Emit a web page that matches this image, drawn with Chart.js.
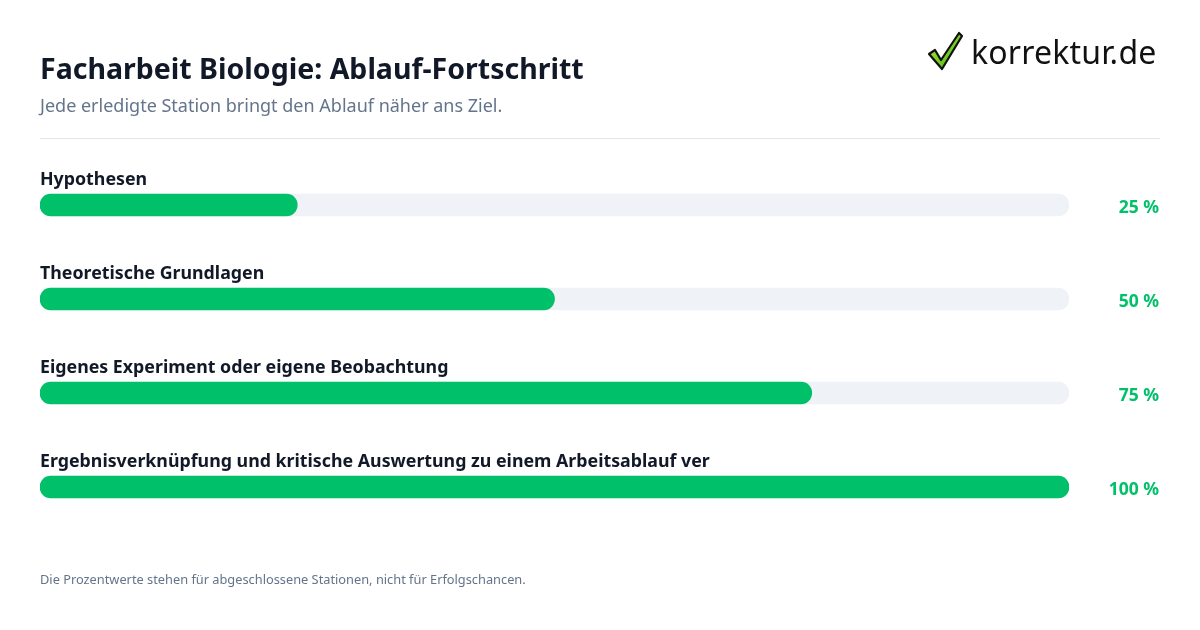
<!DOCTYPE html>
<html lang="de">
<head>
<meta charset="utf-8">
<script src="https://cdn.jsdelivr.net/npm/chart.js@4"></script>
<style>
  html, body { margin: 0; padding: 0; background: #fff; }
  body { width: 1200px; height: 630px; position: relative; overflow: hidden; font-family: "Noto Sans", sans-serif; }
  #wrap { position: absolute; left: 0; top: 0; width: 1200px; height: 630px; }
  .title { position: absolute; left: 40px; top: 48px; font-size: 28.5px; font-weight: 700; color: #111827; margin: 0; line-height: 40px; }
  .sub { position: absolute; left: 40px; top: 93px; font-size: 18px; color: #64748b; line-height: 24px; }
  .sep { position: absolute; left: 40px; top: 138px; width: 1120px; height: 1px; background: #e2e8f0; }
  .foot { position: absolute; left: 40px; top: 570px; font-size: 12.8px; color: #64748b; line-height: 18px; }
  .logo { position: absolute; left: 926px; top: 28px; height: 46px; display: flex; align-items: center; }
  .logo span { font-family: "Noto Sans", sans-serif; font-size: 32px; color: #111; margin-left: 7px; letter-spacing: 0.2px; }
</style>
</head>
<body>
<div id="wrap"><canvas id="progress" width="1200" height="630"></canvas></div>
<h1 class="title">Facharbeit Biologie: Ablauf-Fortschritt</h1>
<div class="sub">Jede erledigte Station bringt den Ablauf näher ans Ziel.</div>
<div class="sep"></div>
<div class="logo">
  <svg width="38" height="42" viewBox="0 0 38 42">
    <defs>
      <linearGradient id="g" x1="0" y1="0" x2="1" y2="1">
        <stop offset="0" stop-color="#b6f03a"/>
        <stop offset="1" stop-color="#3fae12"/>
      </linearGradient>
    </defs>
    <path d="M3 24 L9 20 L15 30 L33 3 L36 6 L16 39 Z" fill="url(#g)" stroke="#111" stroke-width="2.2" stroke-linejoin="round"/>
  </svg>
  <span>korrektur.de</span>
</div>
<div class="foot">Die Prozentwerte stehen für abgeschlossene Stationen, nicht für Erfolgschancen.</div>

<script>
// Stationen und Fortschritt
const stations = [
  'Hypothesen',
  'Theoretische Grundlagen',
  'Eigenes Experiment oder eigene Beobachtung',
  'Ergebnisverknüpfung und kritische Auswertung zu einem Arbeitsablauf ver'
];
const progress = [25, 50, 75, 100];
const trackMax = [100, 100, 100, 100];

const green = '#00c16a';
const track = '#eff3f8';

// Beschriftung über den Balken und Prozent rechts
const labelPlugin = {
  id: 'stationLabels',
  afterDatasetsDraw(chart) {
    const ctx = chart.ctx;
    const meta = chart.getDatasetMeta(1);
    const area = chart.chartArea;
    ctx.save();
    meta.data.forEach((bar, i) => {
      const top = bar.y - bar.height / 2;
      ctx.font = '700 17.8px "Noto Sans", sans-serif';
      ctx.fillStyle = '#111827';
      ctx.textAlign = 'left';
      ctx.textBaseline = 'alphabetic';
      ctx.fillText(stations[i], area.left, top - 9, 672);
      ctx.font = '700 17.5px "Noto Sans", sans-serif';
      ctx.fillStyle = green;
      ctx.textAlign = 'right';
      ctx.textBaseline = 'middle';
      ctx.fillText(progress[i] + ' %', 1159, bar.y + 3);
    });
    ctx.restore();
  }
};

const ctx = document.getElementById('progress').getContext('2d');
new Chart(ctx, {
  type: 'bar',
  data: {
    labels: stations,
    datasets: [
      {
        data: trackMax,
        backgroundColor: track,
        borderRadius: 11,
        borderSkipped: false,
        barThickness: 22,
        grouped: false,
        order: 2
      },
      {
        data: progress,
        backgroundColor: green,
        borderRadius: 11,
        borderSkipped: false,
        barThickness: 22,
        grouped: false,
        order: 1
      }
    ]
  },
  options: {
    indexAxis: 'y',
    responsive: false,
    animation: false,
    layout: { padding: { left: 40, right: 131, top: 158, bottom: 96 } },
    plugins: { legend: { display: false }, tooltip: { enabled: false } },
    scales: {
      x: { min: 0, max: 100, display: false },
      y: { display: false }
    }
  },
  plugins: [labelPlugin]
});
</script>
</body>
</html>
